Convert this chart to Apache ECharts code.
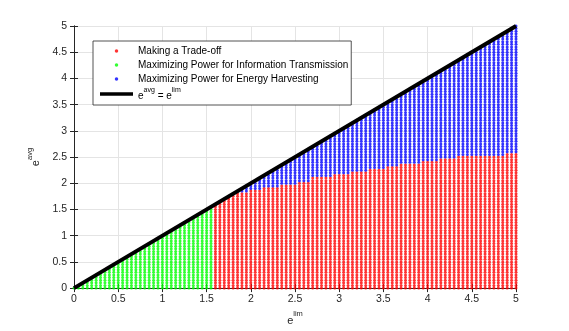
<!DOCTYPE html>
<html>
<head>
<meta charset="utf-8">
<script src="https://cdn.jsdelivr.net/npm/echarts@6/dist/echarts.min.js"></script>
<style>
  html, body { margin: 0; padding: 0; background: #fff; }
  #chart { width: 569px; height: 331px; }
</style>
</head>
<body>
<div id="chart"></div>
<script>
// sampling grid of the region (e_lim, e_avg), both axes
const gridStep = 0.05;
const gridCount = 100;           // 0 .. 5
const greenLastX = 1.55;         // last column of the green region

// top of the red region
const boundaryX = [1.6, 1.7, 1.8, 1.9, 2.0, 2.2, 2.4, 2.6, 2.8, 3.0, 3.2, 3.4, 3.6, 3.8, 4.0, 4.2, 4.4, 4.6, 4.8, 5.0];
const boundaryY = [1.6, 1.7, 1.75, 1.8, 1.85, 1.92, 1.96, 2.03, 2.1, 2.16, 2.2, 2.27, 2.32, 2.36, 2.4, 2.46, 2.5, 2.52, 2.54, 2.55];

const lineX = [0, 5];
const lineY = [0, 5];

const seriesNames = [
  'Making a Trade-off',
  'Maximizing Power for Information Transmission',
  'Maximizing Power for Energy Harvesting',
  'e^avg = e^lim'
];

function redTop(x) {
  let best = 0;
  for (let k = 0; k < boundaryX.length; k++) {
    if (Math.abs(boundaryX[k] - x) < Math.abs(boundaryX[best] - x)) best = k;
  }
  return boundaryY[best];
}

const red = [], green = [], blue = [];
for (let i = 0; i <= gridCount; i++) {
  const x = Math.round(i * gridStep * 100) / 100;
  for (let j = 0; j <= i; j++) {
    const y = Math.round(j * gridStep * 100) / 100;
    if (x <= greenLastX + 1e-9) green.push([x, y]);
    else if (y <= redTop(x) + 1e-9) red.push([x, y]);
    else blue.push([x, y]);
  }
}

const axisColor = '#262626';
const font = 'Liberation Sans, Arial, Helvetica, sans-serif';
const supRich = {
  b: { fontSize: 11, color: axisColor, fontFamily: font, verticalAlign: 'bottom', lineHeight: 16 },
  s: { fontSize: 7.5, color: axisColor, fontFamily: font, verticalAlign: 'top', lineHeight: 16 }
};

const chart = echarts.init(document.getElementById('chart'));

const baseAxis = {
  type: 'value',
  min: 0,
  max: 5,
  interval: 0.5,
  axisLine: { show: true, lineStyle: { color: axisColor, width: 1 } },
  axisTick: { show: true, inside: true, length: 4, lineStyle: { color: axisColor } },
  splitLine: { show: true, lineStyle: { color: '#e4e4e4', width: 1 } }
};

const dot = (name, data, color) => ({
  name: name,
  type: 'scatter',
  data: data,
  symbol: 'circle',
  symbolSize: 3,
  itemStyle: { color: color },
  silent: true,
  xAxisIndex: 0,
  yAxisIndex: 0
});

const option = {
  animation: false,
  backgroundColor: '#fff',
  grid: { left: 74, right: 53, top: 26, bottom: 38 },
  xAxis: [
    Object.assign({}, baseAxis, {
      position: 'bottom',
      name: '{b|e}{s|lim}',
      nameLocation: 'middle',
      nameGap: 19,
      nameTextStyle: { rich: supRich },
      axisLabel: { color: axisColor, fontSize: 10.5, fontFamily: font, margin: 6 }
    }),
    Object.assign({}, baseAxis, {
      position: 'top',
      axisLabel: { show: false },
      splitLine: { show: false }
    })
  ],
  yAxis: [
    Object.assign({}, baseAxis, {
      position: 'left',
      name: '{b|e}{s|avg}',
      nameLocation: 'middle',
      nameRotate: 90,
      nameGap: 27,
      nameTextStyle: { rich: supRich },
      axisLabel: { color: axisColor, fontSize: 10.5, fontFamily: font, margin: 7 }
    }),
    Object.assign({}, baseAxis, {
      position: 'right',
      axisLabel: { show: false },
      splitLine: { show: false }
    })
  ],
  legend: {
    orient: 'vertical',
    left: 93,
    top: 41,
    padding: [4, 3, 4, 7],
    itemGap: 2,
    itemWidth: 33,
    itemHeight: 3.5,
    backgroundColor: '#fff',
    borderColor: axisColor,
    borderWidth: 0.8,
    borderRadius: 0,
    textStyle: {
      color: '#000',
      fontSize: 10,
      fontFamily: font,
      lineHeight: 12,
      rich: {
        b: { fontSize: 10, color: '#000', fontFamily: font, verticalAlign: 'bottom', lineHeight: 14 },
        s: { fontSize: 7, color: '#000', fontFamily: font, verticalAlign: 'top', lineHeight: 14 }
      }
    },
    formatter: function (name) {
      if (name === seriesNames[3]) return '{b|e}{s|avg}{b| = e}{s|lim}';
      return name;
    },
    data: [
      { name: seriesNames[0], icon: 'circle' },
      { name: seriesNames[1], icon: 'circle' },
      { name: seriesNames[2], icon: 'circle' },
      { name: seriesNames[3], icon: 'rect', itemStyle: { color: '#000' } }
    ]
  },
  series: [
    dot(seriesNames[0], red, '#ff0000'),
    dot(seriesNames[1], green, '#00ff00'),
    dot(seriesNames[2], blue, '#0000ff'),
    {
      name: seriesNames[3],
      type: 'line',
      data: lineX.map((x, k) => [x, lineY[k]]),
      showSymbol: false,
      symbol: 'none',
      itemStyle: { color: '#000' },
      lineStyle: { color: '#000', width: 4 },
      silent: true,
      z: 5
    }
  ]
};

chart.setOption(option);
</script>
</body>
</html>
